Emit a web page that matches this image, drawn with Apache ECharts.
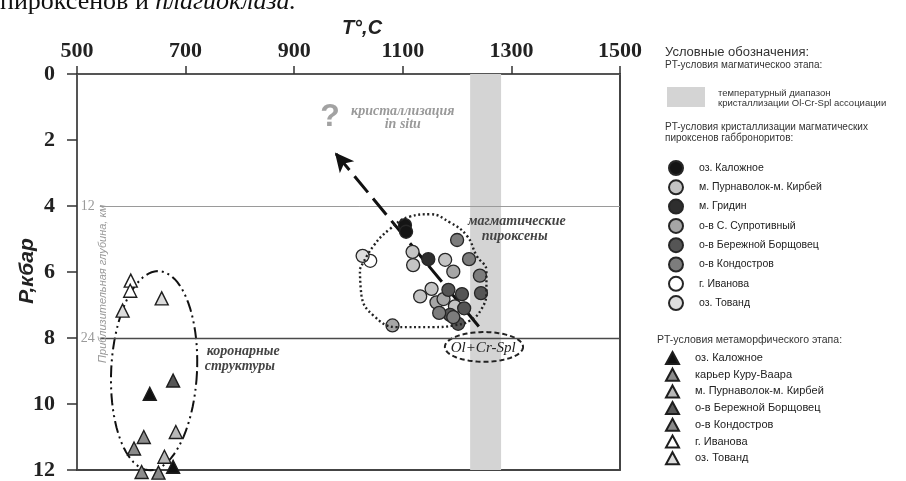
<!DOCTYPE html>
<html>
<head>
<meta charset="utf-8">
<script src="https://cdn.jsdelivr.net/npm/echarts@6.0.0/dist/echarts.min.js"></script>
<style>
  html, body { margin: 0; padding: 0; background: #fff; }
  #chart { width: 906px; height: 481px; }
</style>
</head>
<body>
<div id="chart"></div>
<script>
// ---- axes ----
const tempTicks = [500, 700, 900, 1100, 1300, 1500];      // T, °C
const pressureTicks = [0, 2, 4, 6, 8, 10, 12];             // P, kbar
const depthMarks = [[4, '12'], [8, '24']];                 // P (kbar) -> approx. depth (km)
const olCrSplRange = [1224, 1281];                         // crystallisation T range of Ol-Cr-Spl

// ---- magmatic pyroxenes of gabbronorites: [T, P] ----
const pyxKalozhnoe   = [[1104, 4.58], [1106, 4.78]];
const pyxPurnavolok  = [[1118, 5.39], [1119, 5.79], [1178, 5.63], [1132, 6.74], [1153, 6.51], [1196, 7.04]];
const pyxGridin      = [[1147, 5.61]];
const pyxSuprotivny  = [[1193, 5.99], [1162, 6.92], [1081, 7.62], [1175, 6.82]];
const pyxBerezhnoy   = [[1244, 6.64], [1184, 6.54], [1209, 6.67], [1187, 7.30], [1213, 7.10], [1202, 7.57]];
const pyxKondostrov  = [[1200, 5.03], [1222, 5.61], [1242, 6.11], [1167, 7.24], [1193, 7.37]];
const pyxIvanova     = [[1040, 5.66]];
const pyxTovand      = [[1026, 5.51]];

// ---- metamorphic stage (coronas): [T, P] ----
const metKalozhnoe   = [[634, 9.69], [677, 11.9]];
const metKuruVaara   = [[623, 11.0], [619, 12.06]];
const metPurnavolok  = [[682, 10.85], [661, 11.6]];
const metBerezhnoy   = [[677, 9.29]];
const metKondostrov  = [[605, 11.35], [650, 12.08]];
const metIvanova     = [[599, 6.26], [598, 6.57]];
const metTovand      = [[584, 7.17], [656, 6.8]];

// contour of the pyroxene field
const pyxOutline = [[1021, 5.91], [1046, 5.21], [1076, 4.70], [1113, 4.32], [1150, 4.25], [1187, 4.50],
  [1218, 4.90], [1236, 5.51], [1254, 5.96], [1254, 6.61], [1245, 7.12], [1224, 7.47], [1193, 7.62],
  [1156, 7.67], [1089, 7.67], [1046, 7.32], [1024, 6.72], [1021, 5.91]];
// trend arrow: from the Ol+Cr-Spl field towards in-situ crystallisation
const trendArrow = [[1240, 7.65], [975, 2.38]];

const pyxNames = ['оз. Каложное', 'м. Пурнаволок-м. Кирбей', 'м. Гридин', 'о-в С. Супротивный',
  'о-в Бережной Борщовец', 'о-в Кондостров', 'г. Иванова', 'оз. Тованд'];
const pyxData = [pyxKalozhnoe, pyxPurnavolok, pyxGridin, pyxSuprotivny, pyxBerezhnoy, pyxKondostrov, pyxIvanova, pyxTovand];
const pyxColors = ['#141414', '#c4c4c4', '#2e2e2e', '#a6a6a6', '#555555', '#7d7d7d', '#ffffff', '#dedede'];

const metNames = ['оз. Каложное', 'карьер Куру-Ваара', 'м. Пурнаволок-м. Кирбей', 'о-в Бережной Борщовец',
  'о-в Кондостров', 'г. Иванова', 'оз. Тованд'];
const metData = [metKalozhnoe, metKuruVaara, metPurnavolok, metBerezhnoy, metKondostrov, metIvanova, metTovand];
const metColors = ['#111111', '#8c8c8c', '#b8b8b8', '#575757', '#8a8a8a', '#ffffff', '#dcdcdc'];

const SERIF = 'Liberation Serif, Times New Roman, serif';
const SANS = 'Liberation Sans, Arial, sans-serif';
const MET = 'met|';

const chart = echarts.init(document.getElementById('chart'), null, { renderer: 'canvas' });

const pyxSeries = pyxNames.map((name, i) => ({
  name, type: 'scatter', data: pyxData[i], symbol: 'circle', symbolSize: 13, clip: false, z: 5,
  itemStyle: { color: pyxColors[i], borderColor: '#262626', borderWidth: 1.3, opacity: 1 }
}));
const metSeries = metNames.map((name, i) => ({
  name: MET + name, type: 'scatter', data: metData[i], symbol: 'triangle', symbolSize: 13, clip: false, z: 5,
  itemStyle: { color: metColors[i], borderColor: '#1e1e1e', borderWidth: 1.4, opacity: 1 }
}));

const hiddenAxis = {
  axisLine: { show: true, onZero: false, lineStyle: { color: '#444', width: 2 } },
  axisTick: { show: false }, axisLabel: { show: false }, splitLine: { show: false }
};

chart.setOption({
  animation: false,
  backgroundColor: '#fff',
  grid: { left: 77, right: 286, top: 74, bottom: 10 },
  xAxis: [
    {
      type: 'value', position: 'top', min: tempTicks[0], max: tempTicks[tempTicks.length - 1],
      interval: tempTicks[1] - tempTicks[0],
      axisLine: { show: true, onZero: false, lineStyle: { color: '#555', width: 2 } },
      axisTick: { show: true, length: 8, lineStyle: { color: '#333', width: 1.5 } },
      axisLabel: { fontFamily: SERIF, fontWeight: 'bold', fontSize: 22, color: '#222', margin: 12,
        formatter: v => String(v) },
      splitLine: { show: false }
    },
    Object.assign({ type: 'value', position: 'bottom', min: 500, max: 1500 }, hiddenAxis)
  ],
  yAxis: [
    {
      type: 'value', inverse: true, min: pressureTicks[0], max: pressureTicks[pressureTicks.length - 1],
      interval: pressureTicks[1] - pressureTicks[0],
      axisLine: { show: true, onZero: false, lineStyle: { color: '#555', width: 2 } },
      axisTick: { show: true, length: 10, lineStyle: { color: '#333', width: 1.5 } },
      axisLabel: { fontFamily: SERIF, fontWeight: 'bold', fontSize: 22, color: '#222', margin: 22 },
      splitLine: { show: false }
    },
    Object.assign({ type: 'value', position: 'right', inverse: true, min: 0, max: 12 }, hiddenAxis)
  ],
  legend: [
    {
      data: pyxNames, orient: 'vertical', left: 668, top: 160, padding: 0, height: 200,
      itemWidth: 14, itemHeight: 14, itemGap: 3.3, selectedMode: false,
      textStyle: { fontFamily: SANS, fontSize: 10.5, lineHeight: 14, color: '#222', padding: [0, 0, 0, 11] }
    },
    {
      data: metNames.map(n => MET + n), orient: 'vertical', left: 665, top: 351, padding: 0, height: 130,
      itemWidth: 13, itemHeight: 12, itemGap: 2.7, selectedMode: false,
      formatter: n => n.replace(MET, ''),
      textStyle: { fontFamily: SANS, fontSize: 11, lineHeight: 12, color: '#222', padding: [0, 0, 0, 11] }
    }
  ],
  series: [
    {
      // temperature band and depth reference lines
      name: 'ref', type: 'scatter', data: [], z: 1, silent: true,
      markArea: {
        silent: true, itemStyle: { color: '#d4d4d4' },
        data: [[{ xAxis: olCrSplRange[0], yAxis: 0 }, { xAxis: olCrSplRange[1], yAxis: 12 }]]
      },
      markLine: {
        silent: true, symbol: 'none', animation: false,
        data: depthMarks.map(([p, km], i) => [
          {
            coord: [542, p],
            lineStyle: { color: i === 0 ? '#9a9a9a' : '#4a4a4a', width: i === 0 ? 1 : 1.3, type: 'solid' },
            label: { show: true, position: 'start', formatter: km, distance: 5,
              fontFamily: SERIF, fontSize: 14, color: '#9a9a9a' }
          },
          { coord: [1500, p] }
        ])
      }
    },
    ...pyxSeries,
    ...metSeries,
    {
      name: 'outline', type: 'line', data: pyxOutline, smooth: 0.45, symbol: 'none', z: 6, silent: true,
      lineStyle: { color: '#222', width: 2.4, type: [2, 2.6] }
    },
    {
      name: 'trend', type: 'scatter', data: [], z: 7, silent: true,
      markLine: {
        silent: true, animation: false, symbol: ['none', 'arrow'], symbolSize: [14, 19],
        lineStyle: { color: '#111', width: 3, type: [21, 8] },
        label: { show: false },
        data: [[{ coord: trendArrow[0] }, { coord: trendArrow[1] }]]
      }
    }
  ]
});

// ---- annotations placed through the axes ----
const px = p => chart.convertToPixel({ xAxisIndex: 0, yAxisIndex: 0 }, p);

function ellipsePoints(center, rT, rP, tilt) {
  const c = px(center);
  const rx = Math.abs(px([center[0] + rT, center[1]])[0] - c[0]);
  const ry = Math.abs(px([center[0], center[1] + rP])[1] - c[1]);
  const pts = [];
  const n = 90;
  for (let k = 0; k < n; k++) {
    const a = (k / n) * Math.PI * 2;
    const x0 = rx * Math.cos(a), y0 = ry * Math.sin(a);
    pts.push([c[0] + x0 * Math.cos(tilt) - y0 * Math.sin(tilt), c[1] + x0 * Math.sin(tilt) + y0 * Math.cos(tilt)]);
  }
  return pts;
}

function plotText(pos, text, font, color, extra) {
  const p = px(pos);
  return Object.assign({
    type: 'text', x: p[0], y: p[1], z: 8, silent: true,
    style: { text, font, fill: color, align: 'center', verticalAlign: 'middle' }
  }, extra || {});
}

const italicBoldSerif = 'italic bold 14px ' + SERIF;

chart.setOption({
  graphic: [
    // corona field
    { type: 'polygon', z: 3, silent: true, shape: { points: ellipsePoints([642, 8.99], 79, 3.02, 0.05) },
      style: { fill: 'none', stroke: '#111', lineWidth: 2, lineDash: [12, 4, 2, 4, 2, 4] } },
    // Ol+Cr-Spl field
    { type: 'polygon', z: 3, silent: true, shape: { points: ellipsePoints([1249.5, 8.27], 72, 0.45, 0) },
      style: { fill: 'none', stroke: '#222', lineWidth: 2, lineDash: [5, 3] } },
    plotText([1248, 8.3], 'Ol+Cr-Spl', 'italic 15px ' + SERIF, '#222'),
    plotText([966, 1.31], '?', 'bold 32px ' + SANS, '#a2a2a2'),
    plotText([1100, 1.13], 'кристаллизация', italicBoldSerif, '#9a9a9a'),
    plotText([1100, 1.53], 'in situ', italicBoldSerif, '#9a9a9a'),
    plotText([1310, 4.46], 'магматические', italicBoldSerif, '#444'),
    plotText([1306, 4.93], 'пироксены', italicBoldSerif, '#444'),
    plotText([806, 8.42], 'коронарные', italicBoldSerif, '#444'),
    plotText([800, 8.87], 'структуры', italicBoldSerif, '#444'),
    plotText([548, 6.36], 'Приблизительная глубина, км', 'italic 11px ' + SANS, '#9a9a9a', { rotation: Math.PI / 2 }),

    // axis titles
    { type: 'text', x: 362, y: 28, silent: true,
      style: { text: 'T°,C', font: 'italic bold 20px ' + SANS, fill: '#222', align: 'center', verticalAlign: 'middle' } },
    { type: 'text', x: 27, y: 271, rotation: Math.PI / 2, silent: true,
      style: { text: 'P,кбар', font: 'italic bold 21px ' + SANS, fill: '#222', align: 'center', verticalAlign: 'middle' } },

    // running text above the figure
    { type: 'text', x: 0, y: 2, silent: true,
      style: { text: '{n|пироксенов и }{i|плагиоклаза.}', verticalAlign: 'middle', align: 'left',
        rich: { n: { font: '26px ' + SERIF, fill: '#111' }, i: { font: 'italic 26px ' + SERIF, fill: '#111' } } } },

    // legend headings
    { type: 'text', x: 665, y: 52, silent: true,
      style: { text: 'Условные обозначения:', font: '13px ' + SANS, fill: '#333', verticalAlign: 'middle' } },
    { type: 'text', x: 665, y: 65, silent: true,
      style: { text: 'PT-условия магматическоо этапа:', font: '10px ' + SANS, fill: '#333', verticalAlign: 'middle' } },
    { type: 'rect', silent: true, shape: { x: 667, y: 87, width: 38, height: 20 }, style: { fill: '#d4d4d4' } },
    { type: 'text', x: 718, y: 93, silent: true,
      style: { text: 'температурный диапазон', font: '9.5px ' + SANS, fill: '#333', verticalAlign: 'middle' } },
    { type: 'text', x: 718, y: 103, silent: true,
      style: { text: 'кристаллизации Ol-Cr-Spl ассоциации', font: '9.5px ' + SANS, fill: '#333', verticalAlign: 'middle' } },
    { type: 'text', x: 665, y: 127, silent: true,
      style: { text: 'PT-условия кристаллизации магматических', font: '10px ' + SANS, fill: '#333', verticalAlign: 'middle' } },
    { type: 'text', x: 665, y: 138, silent: true,
      style: { text: 'пироксенов габброноритов:', font: '10px ' + SANS, fill: '#333', verticalAlign: 'middle' } },
    { type: 'text', x: 657, y: 340, silent: true,
      style: { text: 'PT-условия метаморфического этапа:', font: '10.5px ' + SANS, fill: '#333', verticalAlign: 'middle' } }
  ]
});
</script>
</body>
</html>
